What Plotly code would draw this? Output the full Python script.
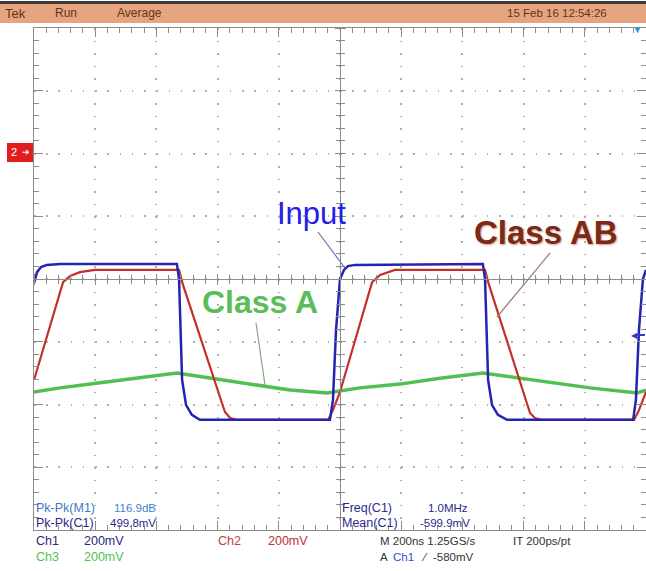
import plotly.graph_objects as go

# ---------------- data (200 ns/div, 200 mV/div) ----------------
t_input = [0, 10, 23, 42, 85, 467, 474, 484, 497, 516, 542, 967, 977, 987, 1000, 1013, 1026, 1049,
           1467, 1474, 1484, 1497, 1516, 1546, 1958, 1967, 1977, 1990, 2000]
v_input = [-13, 22, 38, 45, 48, 48, 0, -322, -402, -433, -449, -449, -386, -163, 0, 29, 41, 45,
           48, 0, -322, -402, -433, -449, -449, -386, -163, 0, 29]

t_ab = [0, 95, 118, 150, 199, 474, 487, 624, 641, 663, 961, 977, 1000, 1105, 1131, 1180,
        1474, 1487, 1621, 1637, 1657, 1961, 1977, 2000]
v_ab = [-322, -10, 10, 22, 29, 29, -19, -424, -443, -449, -449, -418, -360, -10, 13, 29,
        29, -19, -427, -443, -449, -449, -418, -360]

t_a = [0, 85, 216, 346, 467, 510, 673, 837, 958, 1000, 1065, 1196, 1327, 1467, 1654, 1817, 1971, 2000]
v_a = [-360, -347, -331, -316, -300, -306, -331, -354, -363, -357, -347, -335, -316, -300, -325, -347, -363, -354]

header_left = ["Tek", "Run", "Average"]
header_date = "15 Feb 16 12:54:26"
meas_labels = ["Pk-Pk(M1)", "Pk-Pk(C1)"]
meas_values = ["116.9dB", "499.8mV"]
meas2_labels = ["Freq(C1)", "Mean(C1)"]
meas2_values = ["1.0MHz", "-599.9mV"]

W, H = 646, 571
L, R, T, B = 34, 0, 28, 41
PW, PH = W - L - R, H - T - B


def px(x):
    return (x - L) / PW


def py(y):
    return (H - B - y) / PH


FONT = "Liberation Sans, Arial, sans-serif"
GRID = "#8c8c8c"

fig = go.Figure()
fig.add_trace(go.Scatter(x=t_a, y=v_a, mode="lines", line=dict(color="#50c150", width=3.5),
                         hoverinfo="skip"))
fig.add_trace(go.Scatter(x=t_ab, y=v_ab, mode="lines", line=dict(color="#c3302c", width=2.2),
                         hoverinfo="skip"))
fig.add_trace(go.Scatter(x=t_input, y=v_input, mode="lines", line=dict(color="#2424b0", width=2.5),
                         hoverinfo="skip"))
# dummy traces so the centre-cross axes get drawn
for xa, ya in [("x2", "y"), ("x3", "y"), ("x", "y2"), ("x", "y3")]:
    fig.add_trace(go.Scatter(x=[None], y=[None], xaxis=xa, yaxis=ya, hoverinfo="skip"))

base_x = dict(range=[0, 2000], showticklabels=False, zeroline=False, fixedrange=True, automargin=False)
base_y = dict(range=[-800, 800], showticklabels=False, zeroline=False, fixedrange=True, automargin=False)

xaxis = dict(base_x, dtick=200, tick0=0, showgrid=True, gridcolor="#b0b0b0", gridwidth=1.5,
             griddash="1.5px,11.05px", showline=True, linecolor=GRID, linewidth=1, mirror="ticks",
             ticks="inside", ticklen=9, tickcolor=GRID,
             minor=dict(ticks="inside", ticklen=5, dtick=40, tick0=0, tickcolor=GRID, showgrid=False))
yaxis = dict(base_y, dtick=200, tick0=-800, showgrid=True, gridcolor="#b0b0b0", gridwidth=1.5,
             griddash="1.5px,10.74px", showline=True, linecolor=GRID, linewidth=1, mirror="ticks",
             ticks="inside", ticklen=9, tickcolor=GRID,
             minor=dict(ticks="inside", ticklen=5, dtick=40, tick0=-800, tickcolor=GRID, showgrid=False))


def cross_x(side):
    return dict(base_x, overlaying="x", anchor="free", position=0.5, side=side, showline=True,
                linecolor=GRID, linewidth=1, showgrid=False, ticks="outside", ticklen=5, dtick=200,
                tick0=0, tickcolor=GRID,
                minor=dict(ticks="outside", ticklen=4, dtick=40, tick0=0, tickcolor=GRID, showgrid=False))


def cross_y(side):
    return dict(base_y, overlaying="y", anchor="free", position=0.5, side=side, showline=True,
                linecolor=GRID, linewidth=1, showgrid=False, ticks="outside", ticklen=5, dtick=200,
                tick0=-800, tickcolor=GRID,
                minor=dict(ticks="outside", ticklen=4, dtick=40, tick0=-800, tickcolor=GRID, showgrid=False))


shapes = [
    # header bar
    dict(type="rect", xref="paper", yref="paper", x0=px(0), x1=px(W), y0=py(1), y1=py(4),
         fillcolor="#3c3c3c", line=dict(width=0), layer="above"),
    dict(type="rect", xref="paper", yref="paper", x0=px(0), x1=px(W), y0=py(4), y1=py(23),
         fillcolor="#e7a57f", line=dict(width=0), layer="above"),
    # channel 2 marker
    dict(type="rect", xref="paper", yref="paper", x0=px(7), x1=px(33), y0=py(143), y1=py(162),
         fillcolor="#e01e1e", line=dict(width=0), layer="above"),
    # trigger level marker stem
    dict(type="line", xref="paper", yref="paper", x0=px(636), y0=py(335), x1=px(645), y1=py(335),
         line=dict(color="#2a3cc8", width=2), layer="above"),
    # leader lines
    dict(type="line", xref="paper", yref="paper", x0=px(318), y0=py(232), x1=px(345), y1=py(268),
         line=dict(color="#7474b8", width=1.2), layer="above"),
    dict(type="line", xref="paper", yref="paper", x0=px(550), y0=py(253), x1=px(497), y1=py(317),
         line=dict(color="#a27a6c", width=1.2), layer="above"),
    dict(type="line", xref="paper", yref="paper", x0=px(256), y0=py(323), x1=px(265), y1=py(385),
         line=dict(color="#86a486", width=1.2), layer="above"),
]

ann = []


def text(x, y, s, color, size=11, anchor="left", bold=False, family=FONT, shadow=None):
    f = dict(family=family, size=size, color=color)
    if shadow:
        f["shadow"] = shadow
    ann.append(dict(xref="paper", yref="paper", x=px(x), y=py(y), text=("<b>%s</b>" % s) if bold else s,
                    showarrow=False, xanchor=anchor, yanchor="middle", font=f))


# header
for s, x, sz in zip(header_left, [3, 53, 115], [13, 12, 12]):
    text(x, 13, s, "#5e3418", size=sz)
text(609, 13, header_date, "#5e3418", size=11.5, anchor="right")

# markers
text(9, 152, "2", "white", size=11)
text(20, 152, "➔", "white", size=9)
text(637, 30, "▼", "#2f8fd8", size=9, anchor="center")
text(634, 335, "◀", "#2a3cc8", size=8, anchor="center")

# trace labels
text(311, 213, "Input", "#2020e6", size=31, anchor="center")
text(546, 233, "Class AB", "#7b2a17", size=33, anchor="center", bold=True,
     shadow="1px 1px 2px #d49a86")
text(260, 302, "Class A", "#5abd58", size=32, anchor="center", bold=True)

# measurements
text(34, 508, meas_labels[0], "#3b78c6", size=12.5)
text(158, 508, meas_values[0], "#3f83cc", size=11.5, anchor="right")
text(34, 523, meas_labels[1], "#2a2a8c", size=12.5)
text(158, 523, meas_values[1], "#2a2a8c", size=11.5, anchor="right")
text(340, 508, meas2_labels[0], "#2a2a8c", size=12.5)
text(470, 508, meas2_values[0], "#2a2a8c", size=11.5, anchor="right")
text(340, 523, meas2_labels[1], "#2a2a8c", size=12.5)
text(472, 523, meas2_values[1], "#2a2a8c", size=11.5, anchor="right")

# channel readouts
text(34, 541, "Ch1", "#2a2a7c", size=12.5)
text(82, 541, "200mV", "#2a2a7c", size=12.5)
text(34, 557, "Ch3", "#52c152", size=12.5)
text(82, 557, "200mV", "#52c152", size=12.5)
text(216, 541, "Ch2", "#c04040", size=12.5)
text(266, 541, "200mV", "#b83434", size=12.5)
text(378, 541, "M 200ns 1.25GS/s", "#333333", size=11.5)
text(511, 541, "IT 200ps/pt", "#333333", size=11.5)
text(378, 557, "A", "#333333", size=11.5)
text(391, 557, "Ch1", "#2a52c8", size=11.5)
text(419, 557, "⁄", "#333333", size=11.5)
text(431, 557, "-580mV", "#333333", size=11.5)

fig.update_layout(
    width=W, height=H, margin=dict(l=L, r=R, t=T, b=B, pad=0, autoexpand=False),
    paper_bgcolor="white", plot_bgcolor="white", showlegend=False,
    xaxis=xaxis, yaxis=yaxis,
    xaxis2=cross_x("bottom"), xaxis3=cross_x("top"),
    yaxis2=cross_y("left"), yaxis3=cross_y("right"),
    shapes=shapes, annotations=ann,
)

fig.write_html("out.html", config={"displayModeBar": False},
               post_script="document.body.style.margin='0';document.body.style.overflow='hidden';")
